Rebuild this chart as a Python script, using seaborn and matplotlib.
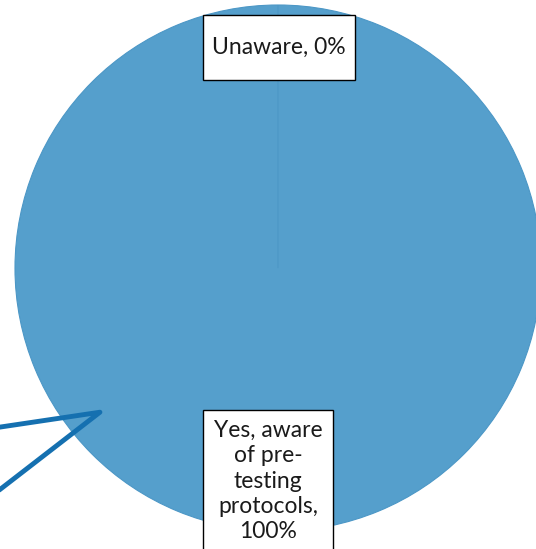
import matplotlib
matplotlib.use("Agg")
import matplotlib.pyplot as plt
from matplotlib.patches import Rectangle
import seaborn as sns

# ===========================
# Data
# ===========================
categories = ["Yes, aware of pre-testing protocols", "Unaware"]
values = [100, 0]
label_text = ["Yes, aware\nof pre-\ntesting\nprotocols,\n100%", "Unaware, 0%"]

sns.set_theme(style="white")
plt.rcParams["font.family"] = ["Lato", "DejaVu Sans"]

W, H = 536, 549
fig = plt.figure(figsize=(W / 100, H / 100), dpi=100)
ax = fig.add_axes([0, 0, 1, 1])

wedges, _ = ax.pie(
    values,
    colors=["#559fcc", "#559fcc"],
    startangle=90,
    counterclock=False,
    radius=1.0,
    wedgeprops=dict(edgecolor="#4c97c6", linewidth=0.8),
)

# place the circle the way the original does (clipped right and bottom)
ax.set_aspect("auto")
ax.set_xlim(-1.057, 0.981)
ax.set_ylim(-1.068, 1.019)
ax.axis("off")


def label_box(x0, y0, x1, y1, text, **kw):
    # box given in pixel coords (top-left origin)
    ax.add_patch(Rectangle((x0 / W, 1 - y1 / H), (x1 - x0) / W, (y1 - y0) / H,
                           transform=fig.transFigure, facecolor="white",
                           edgecolor="black", linewidth=1, clip_on=False, zorder=3))
    ax.text((x0 + x1) / 2 / W, kw.pop("ty") / H, text, transform=fig.transFigure,
            ha="center", va="center", fontsize=16.5, color="#1a1a1a", zorder=4, **kw)


label_box(203, 15, 355, 80, label_text[1], ty=H - 47)
label_box(203, 410, 333, 565, label_text[0], ty=H - 481, linespacing=1.24)

# callout arrow at the left edge
ax.plot([-1.06, -0.677, -1.06], [-0.605, -0.548, -0.844],
        color="#1570b0", linewidth=3.5, solid_capstyle="round",
        solid_joinstyle="round", clip_on=False)

fig.savefig("out.png", dpi=100)
